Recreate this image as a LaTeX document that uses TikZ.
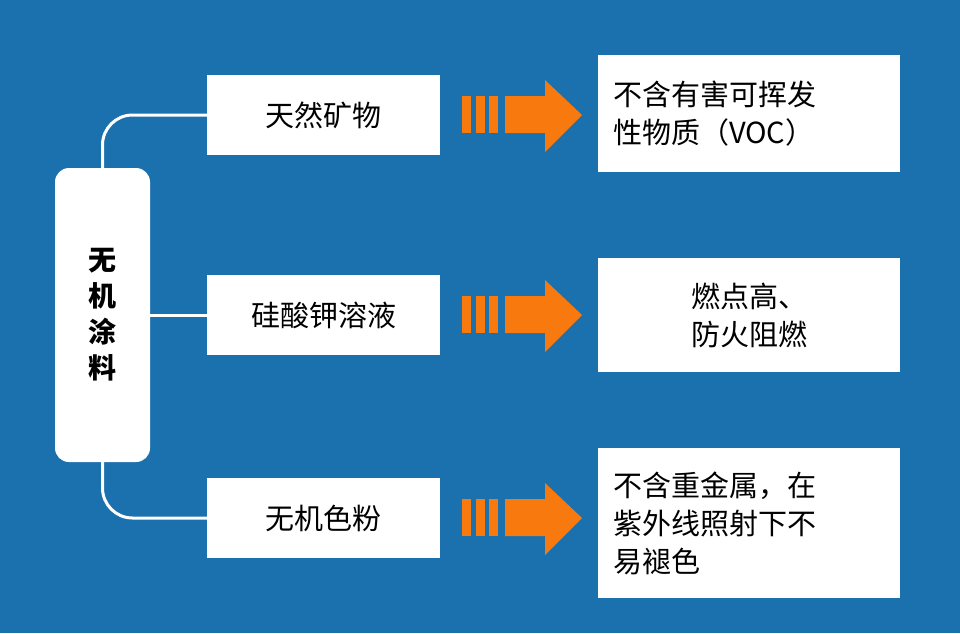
\documentclass[tikz,border=0pt]{standalone}
\usepackage{fontspec}
\setmainfont{Noto Sans CJK SC}
\begin{document}
\begin{tikzpicture}[x=1pt,y=-1pt,
  wbox/.style={fill=white,draw=none,inner sep=0pt,font=\fontsize{29}{38}\selectfont},
  conn/.style={white,line width=3pt},
  org/.style={fill=arrowc,draw=none}]
\definecolor{bg}{HTML}{1B70AE}
\definecolor{arrowc}{HTML}{F87A0E}
\fill[bg] (0,0) rectangle (960,633);
\useasboundingbox (0,0) rectangle (960,633);
\node[wbox,rounded corners=14pt,minimum width=95pt,minimum height=294pt,font=\bfseries\fontsize{28}{36}\selectfont,align=center] (L) at (102.5,315) {无\\机\\涂\\料};
\node[wbox,minimum width=233pt,minimum height=80pt] (m1) at (323.5,115) {天然矿物};
\node[wbox,minimum width=233pt,minimum height=80pt] (m2) at (323.5,315) {硅酸钾溶液};
\node[wbox,minimum width=233pt,minimum height=80pt] (m3) at (323.5,518) {无机色粉};
\node[wbox,minimum width=302pt,minimum height=117pt,align=left,text width=272pt] (r1) at (749,113.5) {不含有害可挥发\\性物质（VOC）};
\node[wbox,minimum width=302pt,minimum height=114pt,align=left] (r2) at (749,315) {燃点高、\\防火阻燃};
\node[wbox,minimum width=302pt,minimum height=150pt,align=left,text width=272pt] (r3) at (749,523) {不含重金属，在\\紫外线照射下不\\易褪色};
\draw[conn,rounded corners=30pt] (L.north) -- (102.5,115) -- (m1.west);
\draw[conn] (L.east |- m2.west) -- (m2.west);
\draw[conn,rounded corners=30pt] (L.south) -- (102.5,518) -- (m3.west);
\foreach \y in {115,315,518}{
  \foreach \x in {462,476,489}{\fill[arrowc] (\x,\y-19) rectangle (\x+9,\y+18);}
  \fill[arrowc] (505,\y-19) -- (545,\y-19) -- (545,\y-35) -- (582,\y) -- (545,\y+37) -- (545,\y+18) -- (505,\y+18) -- cycle;
}
\end{tikzpicture}
\end{document}
